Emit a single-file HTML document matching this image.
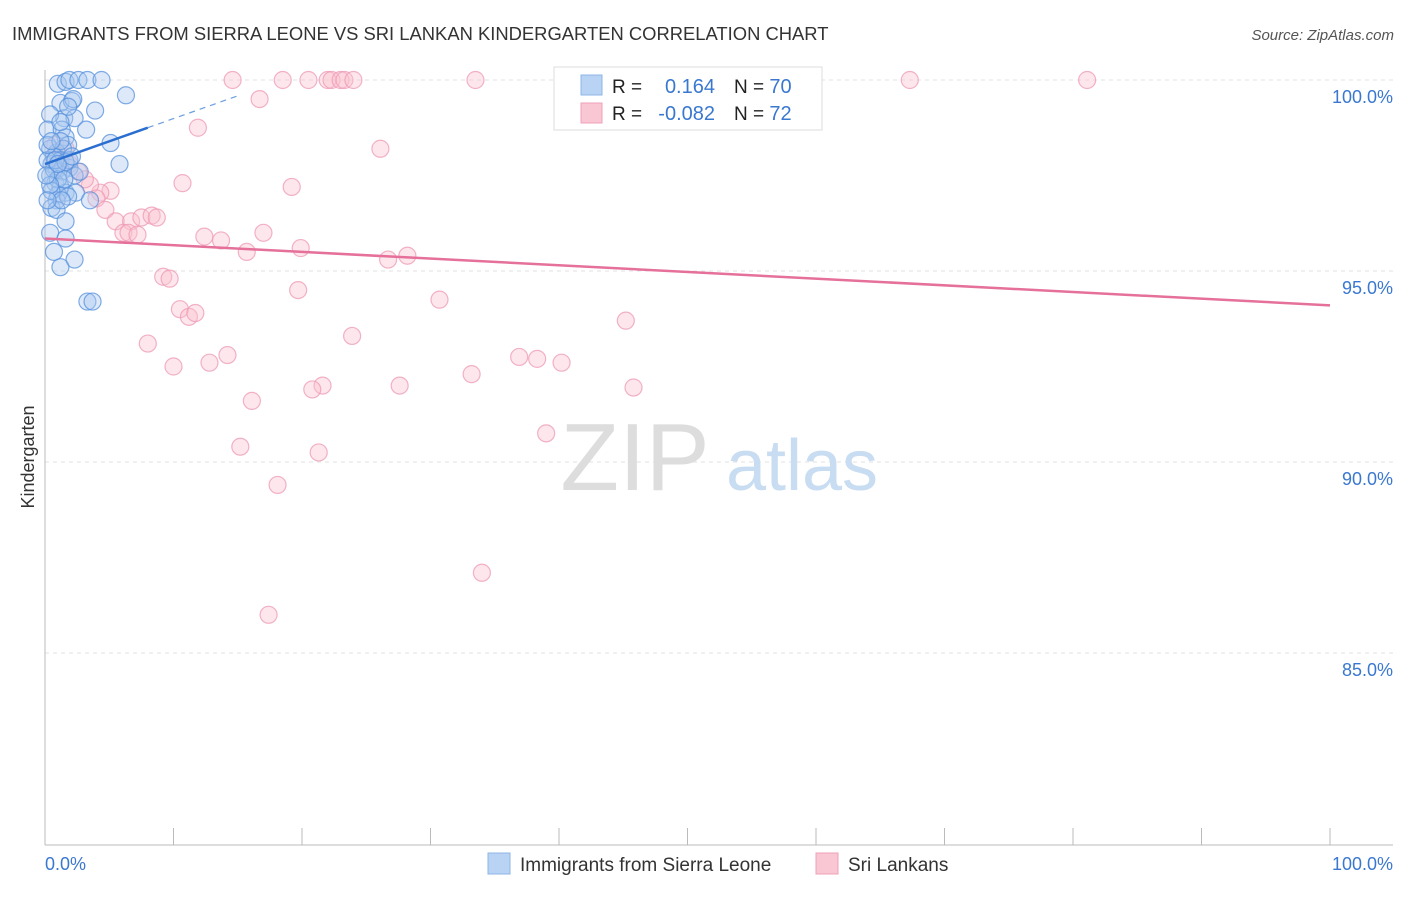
<!DOCTYPE html>
<html><head><meta charset="utf-8">
<style>
body{margin:0;background:#fff;font-family:"Liberation Sans",sans-serif;}
svg text{font-family:"Liberation Sans",sans-serif;}
</style></head>
<body>
<svg id="chart" width="1406" height="892" viewBox="0 0 1406 892" xmlns="http://www.w3.org/2000/svg">
<text x="12" y="40" font-size="18.4" fill="#333">IMMIGRANTS FROM SIERRA LEONE VS SRI LANKAN KINDERGARTEN CORRELATION CHART</text>
<text x="1394" y="40" font-size="15" fill="#555" text-anchor="end" font-style="italic">Source: ZipAtlas.com</text>
<text x="34" y="457" font-size="18" fill="#333" text-anchor="middle" transform="rotate(-90 34 457)">Kindergarten</text>
<g id="grid"></g>
<g id="watermark">
<text x="635" y="490" font-size="96" fill="#ddd" font-family="Liberation Serif" text-anchor="middle">ZIP</text>
<text x="802" y="490" font-size="72" fill="#c8dcf2" text-anchor="middle">atlas</text>
</g>
<g id="axes"></g>
<g id="pink"></g>
<g id="blue"></g>
<g id="trends"></g>
<g>
<rect x="554" y="67" width="268" height="63" fill="#fff" stroke="#ddd"/>
<rect x="581" y="75" width="21" height="20" fill="#b9d3f5" stroke="#8fb5e8"/>
<rect x="581" y="103" width="21" height="20" fill="#f9c6d4" stroke="#f0a0b8"/>
<text x="612" y="93" font-size="19" fill="#222">R = </text>
<text x="715" y="93" font-size="20" fill="#3a78d0" text-anchor="end">0.164</text>
<text x="734" y="93" font-size="19" fill="#222">N = <tspan fill="#3a78d0" font-size="20">70</tspan></text>
<text x="612" y="120" font-size="19" fill="#222">R = </text>
<text x="715" y="120" font-size="20" fill="#3a78d0" text-anchor="end">-0.082</text>
<text x="734" y="120" font-size="19" fill="#222">N = <tspan fill="#3a78d0" font-size="20">72</tspan></text>
</g>
<g>
<rect x="488" y="853" width="22" height="21" fill="#b9d3f5" stroke="#8fb5e8"/>
<text x="520" y="871" font-size="19" fill="#333">Immigrants from Sierra Leone</text>
<rect x="816" y="853" width="22" height="21" fill="#f9c6d4" stroke="#f0a0b8"/>
<text x="848" y="871" font-size="19" fill="#333">Sri Lankans</text>
</g>
</svg>
<script>
const yTicks=[100,95,90,85];
const yTickLabels=["100.0%","95.0%","90.0%","85.0%"];
const xTicks=[0,10,20,30,40,50,60,70,80,90,100];
const blueX=[1.0,1.6,1.9,2.6,3.3,4.4,6.3,1.2,2.1,2.2,3.9,1.5,2.3,0.4,0.2,1.3,3.2,1.6,1.8,5.1,0.4,0.9,1.4,0.7,0.5,1.2,5.8,1.9,0.9,0.4,1.3,2.3,0.8,1.2,1.6,2.4,1.0,3.5,0.9,1.8,0.5,0.9,1.6,0.4,1.6,0.7,2.3,1.2,3.3,3.7,0.7,1.0,0.2,1.5,0.5,1.9,2.7,0.2,1.2,1.3,0.8,1.6,0.4,1.0,0.5,0.1,2.1,1.2,1.8,0.2];
const blueY=[99.9,99.95,100,100,100,100,99.6,99.4,99.45,99.5,99.2,99.0,99.0,99.1,98.7,98.7,98.7,98.5,98.3,98.35,98.2,98.1,98.2,98.0,97.8,97.9,97.8,97.7,97.65,97.5,97.6,97.5,97.3,97.2,97.05,97.05,97.0,96.85,96.85,96.95,96.65,96.6,96.3,96.0,95.85,95.5,95.3,95.1,94.2,94.2,97.65,97.4,97.9,97.4,97.1,97.9,97.6,98.3,98.4,96.85,97.9,97.85,97.25,97.8,98.4,97.5,98.0,98.9,99.3,96.85];
const pinkX=[14.6,18.5,20.5,22.0,22.3,23.0,23.3,24.0,33.5,41.6,67.3,81.1,16.7,11.9,26.1,10.7,19.2,5.1,4.3,3.5,4.0,4.7,5.5,6.7,7.5,8.3,8.7,6.1,6.5,7.2,12.4,13.7,17.0,15.7,19.9,26.7,28.2,9.2,9.7,19.7,30.7,10.5,11.2,11.7,45.2,23.9,8.0,14.2,12.8,10.0,36.9,38.3,40.2,33.2,27.6,21.6,20.8,45.8,16.1,39.0,15.2,21.3,18.1,34.0,17.4,0.8,1.3,1.9,2.6,3.1,1.0,1.6];
const pinkY=[100,100,100,100,100,100,100,100,100,100,100,100,99.5,98.75,98.2,97.3,97.2,97.1,97.05,97.25,96.9,96.6,96.3,96.3,96.4,96.45,96.4,96.0,96.0,95.95,95.9,95.8,96.0,95.5,95.6,95.3,95.4,94.85,94.8,94.5,94.25,94.0,93.8,93.9,93.7,93.3,93.1,92.8,92.6,92.5,92.75,92.7,92.6,92.3,92.0,92.0,91.9,91.95,91.6,90.75,90.4,90.25,89.4,87.1,86.0,98.3,98.0,97.8,97.6,97.4,97.9,98.2];
const blueTrend=[97.8,0.119];   // intercept, slope
const pinkTrend=[95.85,-0.0175];
const X0=45,X1=1330,YT=80,YB=844;
function xs(v){return X0+(X1-X0)*v/100;}
function ys(v){return YT+(YB-YT)*(100-v)/20;}
const NS="http://www.w3.org/2000/svg";
function mk(t,a,p){const e=document.createElementNS(NS,t);for(const k in a)e.setAttribute(k,a[k]);p.appendChild(e);return e;}
const grid=document.getElementById('grid'),axes=document.getElementById('axes');
yTicks.forEach((v,i)=>{
 const l=mk('line',{x1:X0,x2:1393,y1:ys(v),y2:ys(v),stroke:'#e2e2e2','stroke-dasharray':'4,4'},grid);
 
 
 const t=mk('text',{x:1393,y:ys(v)+23,'font-size':18,fill:'#3a78d0','text-anchor':'end'},axes);
 t.textContent=yTickLabels[i];
 
 
});
const ax=mk('line',{x1:X0,x2:1393,y1:845,y2:845,stroke:'#bbb'},axes);


const ay=mk('line',{x1:X0,x2:X0,y1:70,y2:845,stroke:'#bbb'},axes);


xTicks.forEach(v=>{
 const t=mk('line',{x1:xs(v),x2:xs(v),y1:828,y2:845,stroke:'#bbb'},axes);
 
 
});
const xl0=mk('text',{x:45,y:870,'font-size':18,fill:'#3a78d0'},axes);xl0.textContent='0.0%';


const xl1=mk('text',{x:1393,y:870,'font-size':18,fill:'#3a78d0','text-anchor':'end'},axes);xl1.textContent='100.0%';


function dots(X,Y,g,fill,stroke,name){
 X.forEach((x,i)=>{
  const c=mk('circle',{cx:xs(x),cy:ys(Y[i]),r:8.5,fill:fill,'fill-opacity':0.4,stroke:stroke,'stroke-opacity':0.75,'stroke-width':1.2},g);
  
  
 });
}
dots(pinkX,pinkY,document.getElementById('pink'),'#f9c0d0','#ee9ab4','sri-lankans-point');
dots(blueX,blueY,document.getElementById('blue'),'#abc9f0','#5590dc','sierra-leone-point');
const tr=document.getElementById('trends');
const b1=mk('line',{x1:xs(0),y1:ys(blueTrend[0]),x2:xs(8),y2:ys(blueTrend[0]+blueTrend[1]*8),stroke:'#2a6fd0','stroke-width':2.5},tr);


const b2=mk('line',{x1:xs(8),y1:ys(blueTrend[0]+blueTrend[1]*8),x2:xs(15),y2:ys(blueTrend[0]+blueTrend[1]*15),stroke:'#6a9ee0','stroke-width':1.2,'stroke-dasharray':'6,5'},tr);


const p1=mk('line',{x1:xs(0),y1:ys(pinkTrend[0]),x2:xs(100),y2:ys(pinkTrend[0]+pinkTrend[1]*100),stroke:'#e5709a','stroke-width':2.5},tr);


</script>
</body></html>
